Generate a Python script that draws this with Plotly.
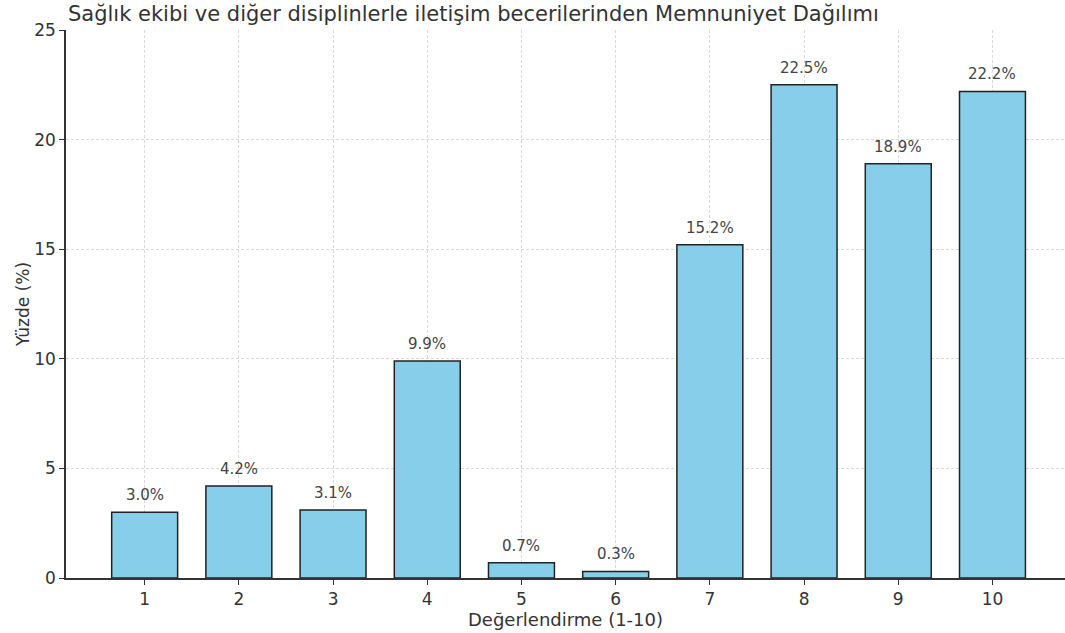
import plotly.graph_objects as go

categories = [1, 2, 3, 4, 5, 6, 7, 8, 9, 10]
percentages = [3.0, 4.2, 3.1, 9.9, 0.7, 0.3, 15.2, 22.5, 18.9, 22.2]
tick_labels = [str(c) for c in categories]
title_text = "Sağlık ekibi ve diğer disiplinlerle iletişim becerilerinden Memnuniyet Dağılımı"

FONT = "DejaVu Sans"

fig = go.Figure()
fig.add_trace(go.Bar(
    x=categories,
    y=percentages,
    width=0.7,
    marker=dict(color="#87CEEB", line=dict(color="#222222", width=1.5)),
    showlegend=False,
    hoverinfo="x+y",
))

for c, p in zip(categories, percentages):
    fig.add_annotation(
        x=c, y=p, text=f"{p:.1f}%", showarrow=False,
        yanchor="bottom", yshift=6,
        font=dict(family=FONT, size=15, color="#444444"),
    )

fig.update_layout(
    width=1065, height=633,
    margin=dict(l=66, r=0, t=30, b=55),
    plot_bgcolor="white", paper_bgcolor="white",
    font=dict(family=FONT, color="#333333"),
    title=dict(text=title_text, x=68 / 1065, xref="container", xanchor="left",
               y=1 - 14 / 633, yref="container", yanchor="middle",
               font=dict(family=FONT, size=21, color="#333333")),
    bargap=0.3,
)

fig.update_xaxes(
    range=[0.165, 10.77],
    tickmode="array", tickvals=categories, ticktext=tick_labels,
    ticks="outside", ticklen=5, tickcolor="#333333",
    tickfont=dict(family=FONT, size=17, color="#333333"),
    showline=True, linecolor="#333333", linewidth=1.5,
    showgrid=True, gridcolor="#d9d9d9", griddash="3px,2px", gridwidth=1,
    title=dict(text="Değerlendirme (1-10)", font=dict(family=FONT, size=18, color="#333333"), standoff=0),
    zeroline=False, automargin=False,
)
fig.update_yaxes(
    range=[0, 25],
    tickvals=[0, 5, 10, 15, 20, 25],
    ticks="outside", ticklen=5, tickcolor="#333333",
    tickfont=dict(family=FONT, size=17, color="#333333"),
    showline=True, linecolor="#333333", linewidth=1.5,
    showgrid=True, gridcolor="#d9d9d9", griddash="3px,2px", gridwidth=1,
    title=dict(text="Yüzde (%)", font=dict(family=FONT, size=17, color="#333333"), standoff=0),
    zeroline=False, automargin=False,
)

fig.write_html("out.html", config={"displayModeBar": False},
               post_script="document.body.style.margin='0';")
